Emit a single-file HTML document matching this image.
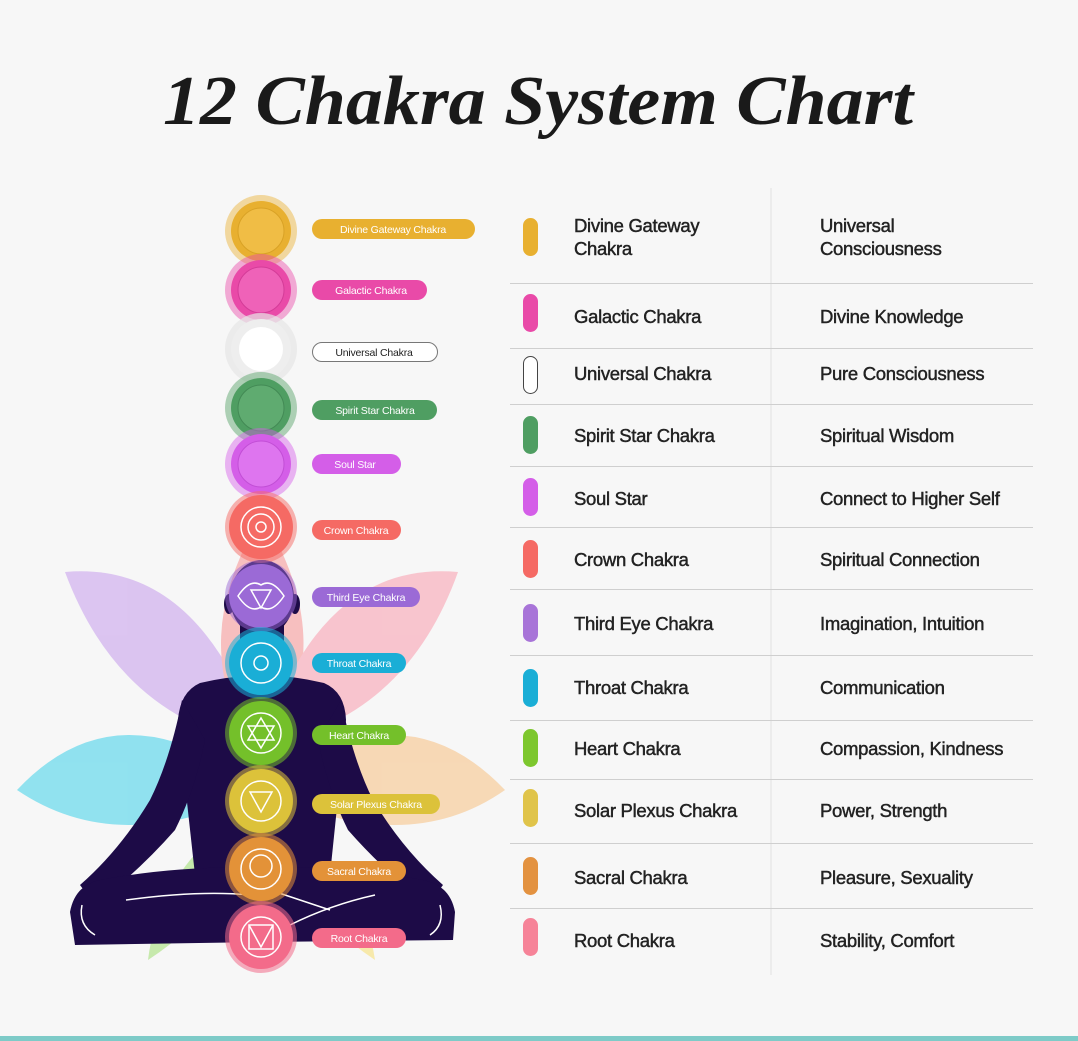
<!DOCTYPE html>
<html><head><meta charset="utf-8"><style>
html,body{margin:0;padding:0;background:#f7f7f7;}
svg{display:block}
.t{font-family:"Liberation Sans",sans-serif;font-size:18.5px;fill:#222;letter-spacing:-0.3px;stroke:#222;stroke-width:0.45px}
.l{font-family:"Liberation Sans",sans-serif;font-size:10.5px;fill:#fff;letter-spacing:-0.2px}
</style></head><body>
<svg width="1078" height="1041" viewBox="0 0 1078 1041" xmlns="http://www.w3.org/2000/svg">
<rect width="1078" height="1041" fill="#f7f7f7"/>
<text x="538" y="124" text-anchor="middle" font-family="Liberation Serif,serif" font-style="italic" font-weight="bold" font-size="70" fill="#1a1a1a" textLength="750" lengthAdjust="spacingAndGlyphs">12 Chakra System Chart</text>

<!-- petals -->
<g opacity="0.6">
<path d="M262,745 Q120,720 65,572 Q200,560 262,745Z" fill="#c9a3ec"/>
<path d="M262,760 Q180,650 262,515 Q345,650 262,760Z" fill="#f79a9a"/>
<path d="M262,745 Q405,720 458,572 Q320,560 262,745Z" fill="#f9a3b3"/>
<path d="M262,790 Q120,860 17,790 Q120,680 262,790Z" fill="#4dd4ea"/>
<path d="M262,790 Q405,860 505,790 Q400,680 262,790Z" fill="#f7c48a"/>
<path d="M262,800 Q160,860 148,960 Q240,900 262,800Z" fill="#a5e07a"/>
<path d="M262,800 Q360,860 375,960 Q285,900 262,800Z" fill="#f7e07a"/>
</g>

<!-- figure -->
<g fill="#1d0b47">
<ellipse cx="262" cy="598" rx="32" ry="38"/>
<ellipse cx="229" cy="604" rx="5" ry="10"/><ellipse cx="295" cy="604" rx="5" ry="10"/>
<rect x="240" y="620" width="44" height="60"/>
<path d="M200,683 Q262,668 324,683 Q345,692 346,720 L330,875 L195,875 L178,720 Q180,692 200,683Z"/>
<path d="M182,700 Q170,760 150,800 Q120,850 80,885 L95,905 Q140,870 175,830 Q195,790 205,740Z"/>
<path d="M341,700 Q353,760 373,800 Q403,850 443,885 L428,905 Q383,870 348,830 Q328,790 318,740Z"/>
<path d="M70,912 Q75,885 100,880 Q180,865 262,868 Q345,865 423,880 Q450,885 455,912 L453,940 L260,942 L75,945Z"/>
</g>
<g fill="none" stroke="#fff" stroke-width="1.5">
<path d="M126,900 Q200,890 250,895"/><path d="M270,890 Q300,900 330,910"/>
<path d="M290,925 Q330,905 375,895"/>
<path d="M82,905 Q78,925 95,935"/><path d="M440,905 Q445,925 430,935"/>
</g>

<!-- chakra circles -->
<g>
<circle cx="261" cy="231" r="36" fill="#e8b030" opacity="0.45"/><circle cx="261" cy="231" r="30" fill="#e8b030"/><circle cx="261" cy="231" r="23" fill="#f0bd45" stroke="#d9a226" stroke-width="1"/>
<circle cx="261" cy="290" r="36" fill="#e94aa8" opacity="0.45"/><circle cx="261" cy="290" r="30" fill="#e94aa8"/><circle cx="261" cy="290" r="23" fill="#ef62b8" stroke="#d43c98"/>
<circle cx="261" cy="349" r="36" fill="#e6e6e6" opacity="0.7"/><circle cx="261" cy="349" r="30" fill="#eeeeee"/><circle cx="261" cy="349" r="22" fill="#fff"/>
<circle cx="261" cy="408" r="36" fill="#4f9e62" opacity="0.45"/><circle cx="261" cy="408" r="30" fill="#4f9e62"/><circle cx="261" cy="408" r="23" fill="#5fab70" stroke="#438a55"/>
<circle cx="261" cy="464" r="36" fill="#d45ee8" opacity="0.45"/><circle cx="261" cy="464" r="30" fill="#d45ee8"/><circle cx="261" cy="464" r="23" fill="#de75ef" stroke="#c24ed6"/>
<circle cx="261" cy="527" r="36" fill="#f56a64" opacity="0.5"/><circle cx="261" cy="527" r="32" fill="#f56a64"/>
<circle cx="261" cy="596" r="36" fill="#9b6ad6" opacity="0.5"/><circle cx="261" cy="596" r="32" fill="#9b6ad6"/>
<circle cx="261" cy="663" r="36" fill="#1aaed6" opacity="0.55"/><circle cx="261" cy="663" r="32" fill="#1aaed6"/>
<circle cx="261" cy="733" r="36" fill="#74c02a" opacity="0.55"/><circle cx="261" cy="733" r="32" fill="#74c02a"/>
<circle cx="261" cy="801" r="36" fill="#dcc23a" opacity="0.55"/><circle cx="261" cy="801" r="32" fill="#dcc23a"/>
<circle cx="261" cy="869" r="36" fill="#e39238" opacity="0.55"/><circle cx="261" cy="869" r="32" fill="#e39238"/>
<circle cx="261" cy="937" r="36" fill="#f36b8a" opacity="0.55"/><circle cx="261" cy="937" r="32" fill="#f36b8a"/>
</g>
<g fill="none" stroke="#fff" stroke-width="1.5">
<circle cx="261" cy="527" r="20"/><circle cx="261" cy="527" r="13"/><circle cx="261" cy="527" r="5"/>
<path d="M238,596 Q250,578 261,585 Q272,578 284,596 Q272,614 261,607 Q250,614 238,596Z"/><path d="M251,590 L271,590 L261,608Z"/>
<circle cx="261" cy="663" r="20"/><circle cx="261" cy="663" r="7"/>
<circle cx="261" cy="733" r="20"/><path d="M261,718 L274,740 L248,740Z M261,748 L274,726 L248,726Z"/>
<circle cx="261" cy="801" r="20"/><path d="M250,792 L272,792 L261,812Z"/>
<circle cx="261" cy="869" r="20"/><circle cx="261" cy="866" r="11"/>
<circle cx="261" cy="937" r="20"/><rect x="249" y="925" width="24" height="24"/><path d="M249,925 L261,947 L273,925"/>
</g>

<!-- labels -->
<g>
<rect x="312" y="219" width="163" height="20" rx="10" fill="#e8b030"/><text class="l" x="393" y="233" text-anchor="middle">Divine Gateway Chakra</text>
<rect x="312" y="280" width="115" height="20" rx="10" fill="#e94aa8"/><text class="l" x="371" y="294" text-anchor="middle">Galactic Chakra</text>
<rect x="312.5" y="342.5" width="125" height="19" rx="9.5" fill="#fff" stroke="#777"/><text class="l" x="374" y="356" text-anchor="middle" style="fill:#222">Universal Chakra</text>
<rect x="312" y="400" width="125" height="20" rx="10" fill="#4f9e62"/><text class="l" x="375" y="414" text-anchor="middle">Spirit Star Chakra</text>
<rect x="312" y="454" width="89" height="20" rx="10" fill="#d45ee8"/><text class="l" x="355" y="468" text-anchor="middle">Soul Star</text>
<rect x="312" y="520" width="89" height="20" rx="10" fill="#f56a64"/><text class="l" x="356" y="534" text-anchor="middle">Crown Chakra</text>
<rect x="312" y="587" width="108" height="20" rx="10" fill="#9b6ad6"/><text class="l" x="366" y="601" text-anchor="middle">Third Eye Chakra</text>
<rect x="312" y="653" width="94" height="20" rx="10" fill="#1aaed6"/><text class="l" x="359" y="667" text-anchor="middle">Throat Chakra</text>
<rect x="312" y="725" width="94" height="20" rx="10" fill="#74c02a"/><text class="l" x="359" y="739" text-anchor="middle">Heart Chakra</text>
<rect x="312" y="794" width="128" height="20" rx="10" fill="#dcc23a"/><text class="l" x="376" y="808" text-anchor="middle">Solar Plexus Chakra</text>
<rect x="312" y="861" width="94" height="20" rx="10" fill="#e39238"/><text class="l" x="359" y="875" text-anchor="middle">Sacral Chakra</text>
<rect x="312" y="928" width="94" height="20" rx="10" fill="#f36b8a"/><text class="l" x="359" y="942" text-anchor="middle">Root Chakra</text>
</g>

<!-- table -->
<line x1="771" y1="188" x2="771" y2="975" stroke="#e2e2e2"/>
<g stroke="#cfcfcf" stroke-width="1">
<line x1="510" y1="283.5" x2="1033" y2="283.5"/><line x1="510" y1="348.5" x2="1033" y2="348.5"/>
<line x1="510" y1="404.5" x2="1033" y2="404.5"/><line x1="510" y1="466.5" x2="1033" y2="466.5"/>
<line x1="510" y1="527.5" x2="1033" y2="527.5"/><line x1="510" y1="589.5" x2="1033" y2="589.5"/>
<line x1="510" y1="655.5" x2="1033" y2="655.5"/><line x1="510" y1="720.5" x2="1033" y2="720.5"/>
<line x1="510" y1="779.5" x2="1033" y2="779.5"/><line x1="510" y1="843.5" x2="1033" y2="843.5"/>
<line x1="510" y1="908.5" x2="1033" y2="908.5"/>
</g>
<g>
<rect x="523" y="218" width="15" height="38" rx="7.5" fill="#e8b030"/>
<rect x="523" y="294" width="15" height="38" rx="7.5" fill="#e94aa8"/>
<rect x="523.5" y="356.5" width="14" height="37" rx="7" fill="#fff" stroke="#444"/>
<rect x="523" y="416" width="15" height="38" rx="7.5" fill="#4f9e62"/>
<rect x="523" y="478" width="15" height="38" rx="7.5" fill="#d45ee8"/>
<rect x="523" y="540" width="15" height="38" rx="7.5" fill="#f56a64"/>
<rect x="523" y="604" width="15" height="38" rx="7.5" fill="#a874d8"/>
<rect x="523" y="669" width="15" height="38" rx="7.5" fill="#1aaed6"/>
<rect x="523" y="729" width="15" height="38" rx="7.5" fill="#7dc72e"/>
<rect x="523" y="789" width="15" height="38" rx="7.5" fill="#e0c44a"/>
<rect x="523" y="857" width="15" height="38" rx="7.5" fill="#e39240"/>
<rect x="523" y="918" width="15" height="38" rx="7.5" fill="#f68398"/>
</g>
<g>
<text class="t" x="574" y="232">Divine Gateway</text><text class="t" x="574" y="255">Chakra</text>
<text class="t" x="820" y="232">Universal</text><text class="t" x="820" y="255">Consciousness</text>
<text class="t" x="574" y="323">Galactic Chakra</text><text class="t" x="820" y="323">Divine Knowledge</text>
<text class="t" x="574" y="380">Universal Chakra</text><text class="t" x="820" y="380">Pure Consciousness</text>
<text class="t" x="574" y="442">Spirit Star Chakra</text><text class="t" x="820" y="442">Spiritual Wisdom</text>
<text class="t" x="574" y="505">Soul Star</text><text class="t" x="820" y="505">Connect to Higher Self</text>
<text class="t" x="574" y="566">Crown Chakra</text><text class="t" x="820" y="566">Spiritual Connection</text>
<text class="t" x="574" y="630">Third Eye Chakra</text><text class="t" x="820" y="630">Imagination, Intuition</text>
<text class="t" x="574" y="694">Throat Chakra</text><text class="t" x="820" y="694">Communication</text>
<text class="t" x="574" y="755">Heart Chakra</text><text class="t" x="820" y="755">Compassion, Kindness</text>
<text class="t" x="574" y="817">Solar Plexus Chakra</text><text class="t" x="820" y="817">Power, Strength</text>
<text class="t" x="574" y="884">Sacral Chakra</text><text class="t" x="820" y="884">Pleasure, Sexuality</text>
<text class="t" x="574" y="947">Root Chakra</text><text class="t" x="820" y="947">Stability, Comfort</text>
</g>
<rect x="0" y="1036" width="1078" height="5" fill="#7ecbc8"/>
</svg>
</body></html>
